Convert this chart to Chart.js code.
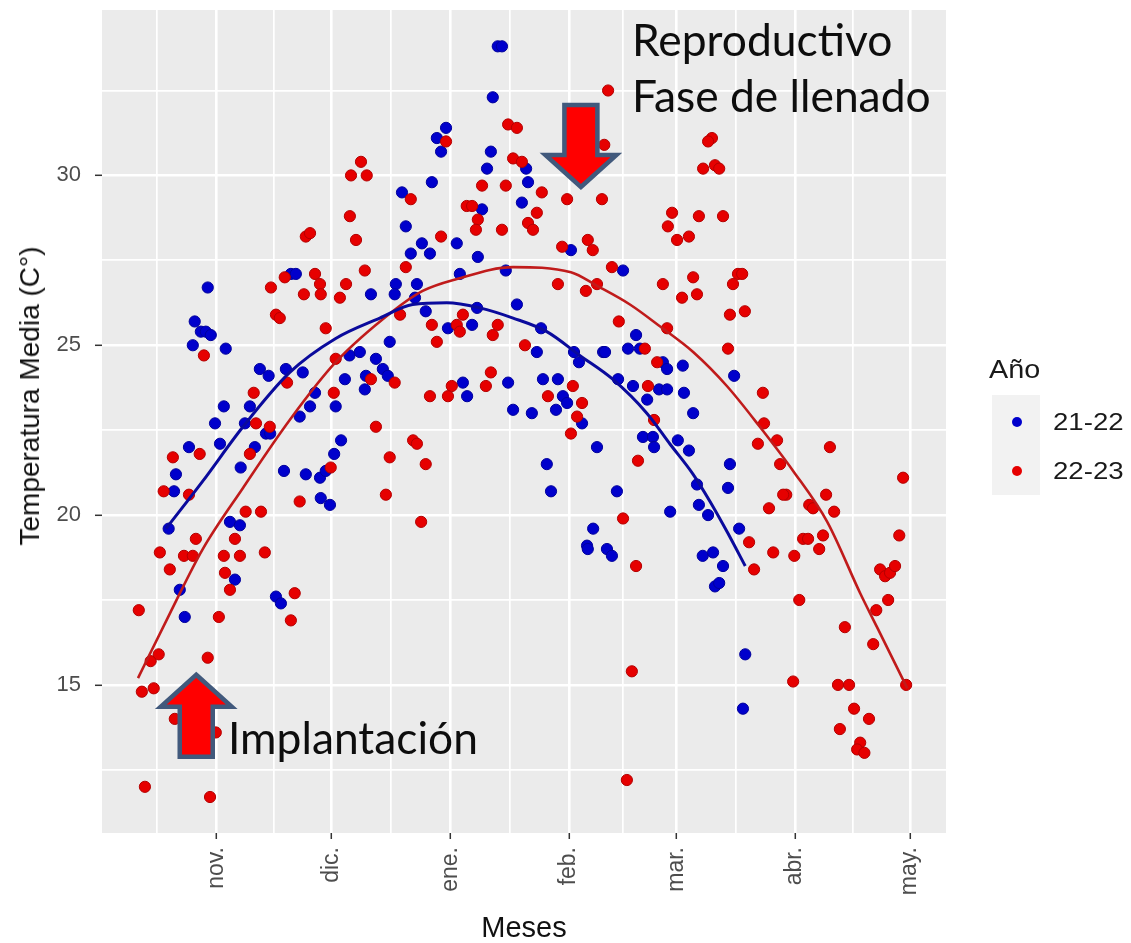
<!DOCTYPE html>
<html>
<head>
<meta charset="utf-8">
<script src="https://cdn.jsdelivr.net/npm/chart.js@4.4.1/dist/chart.umd.min.js"></script>
<style>
  html, body { margin: 0; padding: 0; background: #fff; }
  #wrap { position: relative; width: 1131px; height: 943px; overflow: hidden; }
  #chart { position: absolute; left: 0; top: 0; }
  .txt { position: absolute; line-height: 1; white-space: nowrap; }
  .note { font-family: Lato, 'Open Sans', sans-serif; color: #0d0d0d; }
  .leg { font-family: 'Liberation Sans', Arial, sans-serif; color: #1a1a1a; transform-origin: left center; }
  #ytitle { position: absolute; left: 30px; top: 396px; transform: translate(-50%, -50%) rotate(-90deg);
            font: 28px 'Liberation Sans', Arial, sans-serif; color: #111; white-space: nowrap; line-height: 1; }
  #keybox { position: absolute; left: 992px; top: 395px; width: 48px; height: 100px; background: #f2f2f2; }
  .dot { position: absolute; width: 10px; height: 10px; border-radius: 50%; }
</style>
</head>
<body>
<div id="wrap">
  <canvas id="chart" width="1131" height="943"></canvas>
  <div id="ytitle">Temperatura Media (C°)</div>
  <div id="keybox"></div>
  <div class="dot" style="left:1012px;top:417px;background:#0000cc"></div>
  <div class="dot" style="left:1012px;top:466px;background:#e60000"></div>
  <div class="txt leg" id="legTitle">Año</div>
  <div class="txt leg" id="leg0"></div>
  <div class="txt leg" id="leg1"></div>
  <div class="txt note" id="note0">Reproductivo</div>
  <div class="txt note" id="note1">Fase de llenado</div>
  <div class="txt note" id="note2">Implantación</div>
</div>
<script>
// x = days counted from 1 Nov, y = mean temperature (°C)
const monthDays = [0, 30, 61, 92, 120, 151, 181];
const monthLabels = ['nov.', 'dic.', 'ene.', 'feb.', 'mar.', 'abr.', 'may.'];
const minorDays = [-15.5, 15, 45.5, 76.5, 106, 135.5, 166];
const yMajor = [15, 20, 25, 30];
const yMinor = [12.5, 17.5, 22.5, 27.5, 32.5];
const seasons = ['21-22', '22-23'];

const pts2122 = [
  [19.4,27.1],[20.7,27.1],[-2.3,26.7],[46.8,26.8],[73.4,33.8],[74.5,33.8],[72.1,32.3],[59.9,31.4],[57.5,31.1],[58.6,30.7],
  [71.6,30.7],[70.6,30.2],[80.8,30.2],[81.3,29.8],[56.2,29.8],[48.4,29.5],[69.3,29.0],[79.7,29.2],[49.4,28.5],[53.6,28.0],
  [50.7,27.7],[55.7,27.7],[62.7,28.0],[68.2,27.6],[92.5,27.8],[106.1,27.2],[75.5,27.2],[52.3,26.8],[63.5,27.1],[40.3,26.5],
  [-5.7,25.7],[-4.1,25.4],[-2.8,25.4],[-1.5,25.3],[-6.2,25.0],[2.4,24.9],[11.3,24.3],[13.6,24.1],[18.1,24.3],[22.5,24.2],
  [45.2,25.1],[34.7,24.7],[37.4,24.8],[41.6,24.6],[43.4,24.3],[44.7,24.1],[39.0,24.1],[38.7,23.7],[33.5,24.0],[25.7,23.6],
  [24.4,23.2],[31.1,23.2],[21.7,22.9],[1.9,23.2],[8.7,23.2],[-0.4,22.7],[7.4,22.7],[12.9,22.4],[14.0,22.4],[-7.2,22.0],
  [0.9,22.1],[10.0,22.0],[6.3,21.4],[32.5,22.2],[30.7,21.8],[17.6,21.3],[23.3,21.2],[27.0,21.1],[28.5,21.3],[27.2,20.5],
  [29.6,20.3],[-10.6,21.2],[-11.1,20.7],[-12.5,19.6],[3.5,19.8],[6.1,19.7],[4.8,18.1],[-9.6,17.8],[-8.3,17.0],[15.5,17.6],
  [16.8,17.4],[46.5,26.5],[51.8,26.4],[54.6,26.0],[60.4,25.5],[66.7,25.6],[68.0,26.1],[78.4,26.2],[84.7,25.5],[83.6,24.8],
  [64.3,23.9],[65.4,23.5],[76.1,23.9],[77.4,23.1],[82.3,23.0],[85.2,24.0],[89.1,24.0],[88.6,23.1],[90.4,23.5],[91.5,23.3],
  [95.4,22.7],[99.3,22.0],[93.3,24.8],[94.6,24.5],[100.9,24.8],[101.4,24.8],[104.8,24.0],[108.7,23.8],[109.5,25.3],[107.4,24.9],
  [110.5,24.9],[116.5,24.5],[117.6,24.3],[115.5,23.7],[117.6,23.7],[112.4,23.4],[111.3,22.3],[113.9,22.3],[114.2,22.0],[86.2,21.5],
  [87.3,20.7],[104.5,20.7],[98.3,19.6],[96.7,19.1],[96.9,19.0],[101.9,19.0],[103.2,18.8],[118.4,20.1],[121.7,24.4],[122.0,23.6],
  [124.4,23.0],[135.1,24.1],[120.4,22.2],[123.3,21.9],[134.0,21.5],[125.4,20.9],[133.5,20.8],[125.9,20.3],[128.3,20.0],[136.4,19.6],
  [126.9,18.8],[129.6,18.9],[132.2,18.5],[130.1,17.9],[131.2,18.0],[138.0,15.9],[137.4,14.3]
];

const pts2223 = [
  [37.7,30.4],[35.1,30.0],[39.2,30.0],[34.8,28.8],[23.3,28.2],[24.4,28.3],[36.4,28.1],[38.7,27.2],[25.7,27.1],[17.8,27.0],
  [27.0,26.8],[33.8,26.8],[14.2,26.7],[102.2,32.5],[76.1,31.5],[78.4,31.4],[59.9,31.0],[101.2,30.9],[77.4,30.5],[79.7,30.4],
  [69.3,29.7],[75.5,29.7],[84.9,29.5],[50.7,29.3],[91.5,29.3],[100.6,29.3],[65.3,29.1],[66.7,29.1],[83.6,28.9],[68.2,28.7],
  [67.7,28.4],[74.5,28.4],[81.3,28.6],[82.6,28.4],[58.6,28.2],[96.9,28.1],[98.2,27.8],[90.2,27.9],[49.4,27.3],[103.2,27.3],
  [89.1,26.8],[116.5,26.8],[118.9,28.9],[117.8,28.5],[129.3,31.1],[128.3,31.0],[127.0,30.2],[130.1,30.3],[131.2,30.2],[125.9,28.8],
  [132.2,28.8],[120.2,28.1],[123.3,28.2],[124.4,27.0],[136.1,27.1],[137.2,27.1],[134.8,26.8],[22.8,26.5],[27.2,26.5],[32.2,26.4],
  [15.5,25.9],[16.5,25.8],[28.5,25.5],[-3.3,24.7],[31.1,24.6],[40.3,24.0],[18.4,23.9],[9.7,23.6],[30.6,23.6],[10.3,22.7],
  [13.9,22.6],[41.6,22.6],[-11.4,21.7],[-4.4,21.8],[8.7,21.8],[29.8,21.4],[45.2,21.7],[-13.8,20.7],[-7.2,20.6],[21.7,20.4],
  [44.2,20.6],[7.6,20.1],[11.6,20.1],[-5.4,19.3],[4.8,19.3],[-14.8,18.9],[-8.5,18.8],[-6.2,18.8],[1.9,18.8],[6.1,18.8],
  [12.6,18.9],[-12.2,18.4],[2.2,18.3],[3.5,17.8],[20.4,17.7],[-20.3,17.2],[0.6,17.0],[19.4,16.9],[-17.2,15.7],[-15.1,15.9],
  [-2.3,15.8],[-19.5,14.8],[-16.4,14.9],[-10.9,14.0],[-0.2,13.6],[-18.7,12.0],[-1.7,11.7],[96.4,26.6],[99.3,26.8],[47.9,25.9],
  [64.3,25.9],[56.2,25.6],[62.7,25.6],[63.5,25.4],[73.4,25.6],[72.1,25.3],[57.5,25.1],[80.5,25.0],[105.0,25.7],[111.8,24.9],
  [117.6,25.5],[115.0,24.5],[46.5,23.9],[71.6,24.2],[61.4,23.8],[70.3,23.8],[55.7,23.5],[60.4,23.5],[93.0,23.8],[86.5,23.5],
  [95.4,23.3],[94.1,22.9],[112.6,23.8],[114.2,22.8],[92.5,22.4],[51.3,22.2],[52.3,22.1],[54.6,21.5],[53.4,19.8],[110.0,21.6],
  [106.1,19.9],[109.5,18.5],[108.4,15.4],[107.1,12.2],[121.5,26.4],[125.4,26.5],[134.0,25.9],[137.9,26.0],[133.5,24.9],[142.6,23.6],
  [142.9,22.7],[141.3,22.1],[146.3,22.2],[160.1,22.0],[147.1,21.5],[179.2,21.1],[148.7,20.6],[147.9,20.6],[159.1,20.6],[144.2,20.2],
  [154.7,20.3],[155.7,20.2],[161.2,20.1],[139.0,19.2],[145.3,18.9],[150.8,18.8],[153.1,19.3],[154.4,19.3],[158.3,19.4],[157.3,19.0],
  [178.2,19.4],[140.3,18.4],[152.1,17.5],[164.0,16.7],[171.4,16.2],[172.2,17.2],[175.3,17.5],[173.2,18.4],[174.5,18.2],[175.8,18.3],
  [177.1,18.5],[150.5,15.1],[162.2,15.0],[165.1,15.0],[180.0,15.0],[166.4,14.3],[170.3,14.0],[162.7,13.7],[168.0,13.3],[167.2,13.1],
  [169.1,13.0]
];

// smoothed trend
const fit2122 = [
  [-13.2,19.6],[-3.6,21.0],[6.9,22.6],[19.1,24.2],[31.1,25.2],[42.6,25.8],[51.2,26.2],[60.1,26.25],[68.7,26.1],[77.4,25.8],
  [86.2,25.4],[94.8,24.7],[103.4,24.0],[112.3,23.0],[118.3,22.1],[124.4,21.2],[128.8,20.4],[133.3,19.5],[138.0,18.5]
];
const fit2223 = [
  [-20.5,15.2],[-12.2,17.1],[-3.6,19.0],[6.9,20.8],[19.1,22.8],[31.1,24.5],[46.0,26.0],[53.8,26.6],[62.7,26.95],[77.4,27.3],
  [92.5,27.15],[99.3,26.75],[107.9,26.2],[115.8,25.55],[124.4,24.8],[133.2,23.8],[141.8,22.6],[150.5,21.3],[159.4,19.8],[168.0,17.7],
  [172.4,16.7],[180.3,14.9]
];

// arrow annotations: tip position in data units
const arrowTips = [{x: 95.1, y: 29.66, dir: 1}, {x: -5.3, y: 15.3, dir: -1}];

const xy = a => a.map(p => ({x: p[0], y: p[1]}));
const isMonth = c => c.tick && monthDays.includes(c.tick.value);
const isWhole = c => c.tick && yMajor.includes(c.tick.value);

Chart.defaults.font.family = "'Liberation Sans', Arial, sans-serif";

const panelBg = {
  id: 'panelBg',
  beforeDraw(chart) {
    const {ctx, chartArea: a} = chart;
    ctx.save();
    ctx.fillStyle = '#ebebeb';
    ctx.fillRect(a.left, a.top, a.right - a.left, a.bottom - a.top);
    ctx.restore();
  }
};

const arrows = {
  id: 'arrows',
  afterDraw(chart) {
    const {ctx, scales} = chart;
    arrowTips.forEach(t => {
      const x = scales.x.getPixelForValue(t.x), y = scales.y.getPixelForValue(t.y);
      const d = t.dir; // 1 = pointing down
      ctx.save();
      ctx.beginPath();
      ctx.moveTo(x, y);
      ctx.lineTo(x + 35.5, y - d * 32);
      ctx.lineTo(x + 16.5, y - d * 32);
      ctx.lineTo(x + 16.5, y - d * 82);
      ctx.lineTo(x - 16.5, y - d * 82);
      ctx.lineTo(x - 16.5, y - d * 32);
      ctx.lineTo(x - 35.5, y - d * 32);
      ctx.closePath();
      ctx.fillStyle = '#ff0000';
      ctx.fill();
      ctx.lineWidth = 4.5;
      ctx.lineJoin = 'miter';
      ctx.strokeStyle = '#41597c';
      ctx.stroke();
      ctx.restore();
    });
  }
};

new Chart(document.getElementById('chart'), {
  type: 'scatter',
  data: {
    datasets: [
      {type: 'line', label: 'fit ' + seasons[0], data: xy(fit2122), borderColor: '#0a0a9c', borderWidth: 3,
       pointRadius: 0, cubicInterpolationMode: 'monotone', fill: false, order: 0},
      {type: 'line', label: 'fit ' + seasons[1], data: xy(fit2223), borderColor: '#c01b1b', borderWidth: 2.6,
       pointRadius: 0, cubicInterpolationMode: 'monotone', fill: false, order: 0},
      {label: seasons[1], data: xy(pts2223), backgroundColor: '#e60000', borderColor: '#b40000', borderWidth: 1,
       pointRadius: 5.6, order: 1},
      {label: seasons[0], data: xy(pts2122), backgroundColor: '#0000cc', borderColor: '#00009c', borderWidth: 1,
       pointRadius: 5.6, order: 2}
    ]
  },
  options: {
    responsive: false,
    animation: false,
    events: [],
    layout: {padding: {left: 0, right: 185, top: 10, bottom: 0}},
    plugins: {legend: {display: false}, tooltip: {enabled: false}},
    scales: {
      x: {
        type: 'linear', min: -29.9, max: 190.4,
        afterBuildTicks: s => { s.ticks = monthDays.concat(minorDays).sort((a, b) => a - b).map(v => ({value: v})); },
        afterFit: s => { s.height = 110; s.paddingLeft = 0; s.paddingRight = 0; },
        ticks: {
          autoSkip: false, minRotation: 90, maxRotation: 90, padding: 8, color: '#4d4d4d', font: {size: 23},
          callback: v => { const i = monthDays.indexOf(v); return i < 0 ? '' : monthLabels[i]; }
        },
        grid: {
          color: '#ffffff', lineWidth: c => isMonth(c) ? 2.6 : 1.7,
          tickLength: 6, tickWidth: 1.5, tickColor: c => isMonth(c) ? '#333333' : 'rgba(0,0,0,0)'
        },
        border: {display: false},
        title: {display: true, text: 'Meses', color: '#111', font: {size: 29, lineHeight: 1}, padding: {top: 0, bottom: 0}}
      },
      y: {
        type: 'linear', min: 10.64, max: 34.87,
        afterBuildTicks: s => { s.ticks = yMinor.concat(yMajor).sort((a, b) => a - b).map(v => ({value: v})); },
        afterFit: s => { s.width = 102; s.paddingTop = 0; s.paddingBottom = 0; },
        ticks: {
          padding: 14, color: '#4d4d4d', font: {size: 22},
          callback: v => yMajor.includes(v) ? String(v) : ''
        },
        grid: {
          color: '#ffffff', lineWidth: c => isWhole(c) ? 2.6 : 1.7,
          tickLength: 7, tickWidth: 1.5, tickColor: c => isWhole(c) ? '#333333' : 'rgba(0,0,0,0)'
        },
        border: {display: false}
      }
    }
  },
  plugins: [panelBg, arrows]
});

// text overlays, placed by baseline
const mctx = document.createElement('canvas').getContext('2d');
function place(el, family, size, left, base) {
  mctx.font = size + 'px ' + family;
  const m = mctx.measureText(el.textContent);
  const asc = m.fontBoundingBoxAscent, desc = m.fontBoundingBoxDescent;
  el.style.fontSize = size + 'px';
  el.style.left = left + 'px';
  el.style.top = (base - ((size - (asc + desc)) / 2 + asc)) + 'px';
}

const legFont = "'Liberation Sans'";
document.getElementById('leg0').textContent = seasons[0];
document.getElementById('leg1').textContent = seasons[1];
place(document.getElementById('legTitle'), legFont, 25, 989, 378);
place(document.getElementById('leg0'), legFont, 24, 1053, 430);
place(document.getElementById('leg1'), legFont, 24, 1053, 479);
['legTitle', 'leg0', 'leg1'].forEach(id => { document.getElementById(id).style.transform = 'scaleX(1.15)'; });

const noteFont = 'Lato';
const noteWidths = [259, 297, 253];
const noteBases = [[632, 57], [632, 113], [228, 755]];
let ratio = 0;
noteWidths.forEach((w, i) => {
  mctx.font = '44px ' + noteFont;
  ratio += w / mctx.measureText(document.getElementById('note' + i).textContent).width;
});
const noteSize = 44 * ratio / noteWidths.length;
noteBases.forEach((p, i) => place(document.getElementById('note' + i), noteFont, noteSize, p[0], p[1]));
</script>
</body>
</html>
